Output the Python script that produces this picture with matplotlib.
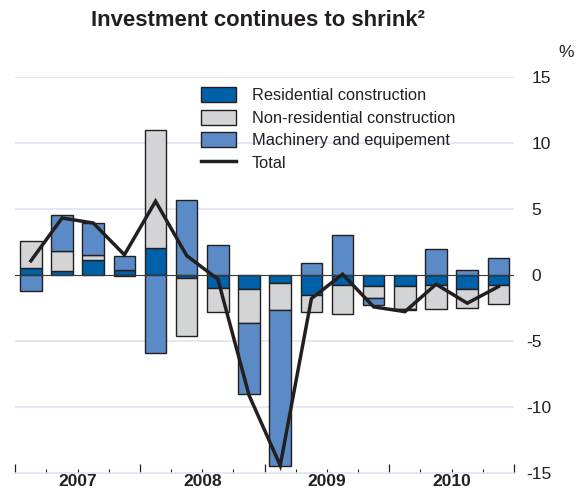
import matplotlib.pyplot as plt
import matplotlib.transforms as mtransforms
import numpy as np

plt.rcParams['font.family'] = 'Liberation Sans'
plt.rcParams['axes.unicode_minus'] = False

color_palette = {'dark': '#231F20', 'res': '#0061A8', 'nonres': '#D3D4D6',
                 'mach': '#5B8BC7', 'grid': '#DCE2F2', 'zero': '#3A3A3A'}

quarters = ['2007Q1', '2007Q2', '2007Q3', '2007Q4', '2008Q1', '2008Q2', '2008Q3', '2008Q4',
            '2009Q1', '2009Q2', '2009Q3', '2009Q4', '2010Q1', '2010Q2', '2010Q3', '2010Q4']
years = ['2007', '2008', '2009', '2010']

residential = [0.53, 0.28, 1.14, 0.40, 2.03, -0.25, -1.01, -1.09,
               -0.63, -1.50, -0.76, -0.82, -0.88, -0.79, -1.09, -0.79]
non_residential = [2.06, 1.50, 0.35, -0.10, 8.95, -4.36, -1.77, -2.59,
                   -2.03, -1.32, -2.23, -0.96, -1.70, -1.80, -1.39, -1.39]
machinery = [-1.22, 2.74, 2.46, 1.04, -5.90, 5.70, 2.28, -5.34,
             -11.86, 0.92, 3.03, -0.50, -0.06, 1.98, 0.38, 1.27]
total = [1.06, 4.31, 3.93, 1.52, 5.58, 1.45, -0.33, -9.13,
         -14.45, -1.80, 0.05, -2.43, -2.79, -0.71, -2.15, -0.89]

series = [('Residential construction', residential, color_palette['res']),
          ('Non-residential construction', non_residential, color_palette['nonres']),
          ('Machinery and equipement', machinery, color_palette['mach'])]

W, H = 583, 490
fig = plt.figure(figsize=(W / 100, H / 100), dpi=100)
ax = fig.add_axes([15.3 / W, 1 - 472.7 / H, (514 - 15.3) / W, (472.7 - 77) / H])

x = np.arange(len(quarters))
pos_base = np.zeros(len(x))
neg_base = np.zeros(len(x))
handles = []
for label, vals, col in series:
    vals = np.array(vals)
    base = np.where(vals >= 0, pos_base, neg_base)
    b = ax.bar(x, vals, bottom=base, width=0.69, color=col, edgecolor=color_palette['dark'],
               linewidth=1.0, label=label, zorder=2)
    handles.append(b)
    pos_base = pos_base + np.where(vals >= 0, vals, 0)
    neg_base = neg_base + np.where(vals < 0, vals, 0)

ax.axhline(0, color=color_palette['zero'], linewidth=0.8, zorder=2.5)
line, = ax.plot(x, total, color=color_palette['dark'], linewidth=2.5, solid_joinstyle='miter',
                label='Total', zorder=3)
handles.append(line)

ax.set_xlim(-0.5, len(quarters) - 0.5)
ax.set_ylim(-15, 15)

# gridlines
for v in [-10, -5, 5, 10, 15]:
    ax.axhline(v, color=color_palette['grid'], linewidth=1.1, zorder=0)

for s in ['top', 'right', 'left']:
    ax.spines[s].set_visible(False)
ax.spines['bottom'].set_color(color_palette['grid'])
ax.spines['bottom'].set_linewidth(1.1)

# quarter ticks, longer at year boundaries
ax.set_xticks(np.arange(-0.5, len(quarters), 4))
ax.set_xticks(np.arange(-0.5, len(quarters), 1), minor=True)
ax.tick_params(axis='x', which='major', direction='in', length=6.3, width=0.9,
               color=color_palette['dark'], labelbottom=False)
ax.tick_params(axis='x', which='minor', direction='in', length=3, width=0.8,
               color=color_palette['dark'])
for i, yr in enumerate(years):
    ax.text(i * 4 + 1.5, -15, yr, transform=ax.transData, ha='center', va='top',
            fontsize=12.5, fontweight='bold', color=color_palette['dark'])
for t in ax.texts:
    t.set_transform(t.get_transform() + mtransforms.ScaledTranslation(0, -1.5 / 100, fig.dpi_scale_trans))

# y axis on the right
yt = [-15, -10, -5, 0, 5, 10, 15]
ax.yaxis.tick_right()
ax.set_yticks(yt, [str(v) for v in yt])
ax.tick_params(axis='y', length=0, pad=12.7, labelsize=12.5, labelcolor=color_palette['dark'])
for v, lab in zip(yt, ax.get_yticklabels()):
    if v < 0:
        lab.set_transform(lab.get_transform() +
                          mtransforms.ScaledTranslation(-0.333 * 12.5 / 72, 0, fig.dpi_scale_trans))

fig.text(566.5 / W, 1 - 52.7 / H, '%', ha='center', va='center', fontsize=12.5,
         color=color_palette['dark'])
fig.text(258 / W, 1 - 20 / H, 'Investment continues to shrink\u00b2', ha='center', va='center',
         fontsize=15.9, fontweight='bold', color=color_palette['dark'])

ax.legend(handles=handles, loc='upper left', bbox_to_anchor=(200.7 / W, 1 - 87.3 / H),
          bbox_transform=fig.transFigure, frameon=False, fontsize=11.8, borderpad=0,
          borderaxespad=0, handlelength=2.13, handleheight=1.04, handletextpad=0.98,
          labelspacing=0.38, labelcolor=color_palette['dark'])

fig.savefig('out.png', dpi=100)
